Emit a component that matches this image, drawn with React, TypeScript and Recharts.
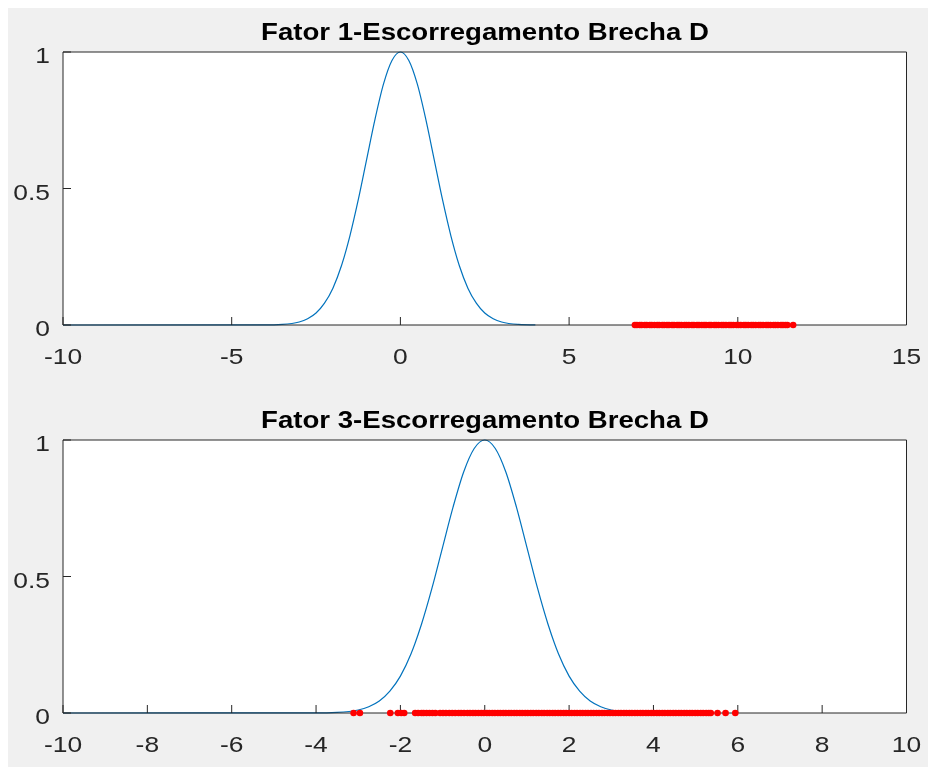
import React from 'react'
import { ComposedChart, Line, Scatter, XAxis, YAxis } from 'recharts'

// gaussian-looking curve (same shape in both panels)
const curveX = [-10, -4, -3.5, -3, -2.75, -2.5, -2.25, -2, -1.75, -1.5, -1.25, -1, -0.75, -0.5, -0.25, 0,
  0.25, 0.5, 0.75, 1, 1.25, 1.5, 1.75, 2, 2.25, 2.5, 2.75, 3, 3.5, 4]
const curveY = [0, 0.0003, 0.0022, 0.011, 0.023, 0.044, 0.08, 0.135, 0.216, 0.325, 0.458, 0.607, 0.755, 0.883, 0.969, 1,
  0.969, 0.883, 0.755, 0.607, 0.458, 0.325, 0.216, 0.135, 0.08, 0.044, 0.023, 0.011, 0.0022, 0.0003]

// red samples sitting on y = 0
const dots1 = [6.95, 7.01, 7.09, 7.15, 7.24, 7.3, 7.39, 7.45, 7.53, 7.61, 7.67, 7.76, 7.82, 7.9, 7.96, 8.05,
  8.11, 8.2, 8.26, 8.33, 8.42, 8.48, 8.55, 8.64, 8.7, 8.79, 8.85, 8.93, 9.0, 9.06, 9.15, 9.21, 9.3, 9.36,
  9.43, 9.52, 9.58, 9.65, 9.74, 9.8, 9.87, 9.96, 10.02, 10.09, 10.18, 10.24, 10.31, 10.4, 10.46, 10.53,
  10.62, 10.68, 10.75, 10.84, 10.9, 10.97, 11.06, 11.12, 11.19, 11.28, 11.34, 11.41, 11.47, 11.64]
const dots3 = [-3.11, -2.96, -2.24, -2.06, -1.98, -1.91, -1.65, -1.58, -1.5, -1.45, -1.38, -1.31, -1.24,
  -1.17, -1.06, -0.99, -0.92, -0.84, -0.77, -0.7, -0.62, -0.56, -0.49, -0.41, -0.35, -0.28, -0.22, -0.15,
  -0.08, -0.02, 0.05, 0.11, 0.18, 0.24, 0.31, 0.37, 0.44, 0.5, 0.57, 0.63, 0.7, 0.76, 0.83, 0.89, 0.96,
  1.02, 1.09, 1.15, 1.22, 1.28, 1.35, 1.41, 1.48, 1.54, 1.61, 1.67, 1.74, 1.8, 1.87, 1.93, 2.0, 2.06,
  2.13, 2.19, 2.26, 2.32, 2.39, 2.45, 2.52, 2.58, 2.65, 2.71, 2.78, 2.84, 2.91, 2.97, 3.04, 3.1, 3.17,
  3.23, 3.3, 3.36, 3.43, 3.49, 3.56, 3.62, 3.69, 3.75, 3.82, 3.88, 3.95, 4.01, 4.08, 4.14, 4.21, 4.27,
  4.34, 4.4, 4.47, 4.53, 4.6, 4.66, 4.73, 4.79, 4.86, 4.92, 4.99, 5.05, 5.12, 5.18, 5.25, 5.31, 5.36,
  5.52, 5.71, 5.94]

const xTicks1 = [-10, -5, 0, 5, 10, 15]
const xTicks3 = [-10, -8, -6, -4, -2, 0, 2, 4, 6, 8, 10]
const yTicks = [0, 0.5, 1]

const AXIS = '#262626'
const BLUE = '#0072BD'
const FONT = '"Liberation Sans", Arial, Helvetica, sans-serif'
const STRETCH = 1.2

const curve = curveX.map((x, i) => ({ x, y: curveY[i] }))

function XTick({ x, y, payload }: any) {
  return (
    <text transform={`translate(${x},${y}) scale(${STRETCH},1)`} textAnchor="middle"
      fill={AXIS} fontSize={22} fontFamily={FONT}>
      {payload.value}
    </text>
  )
}

function YTick({ x, y, payload }: any) {
  return (
    <text transform={`translate(${x},${y + 11}) scale(${STRETCH},1)`} textAnchor="end"
      fill={AXIS} fontSize={22} fontFamily={FONT}>
      {payload.value}
    </text>
  )
}

const noTick = () => <g />

function RedDot(p: any) {
  return <circle cx={p.cx} cy={p.cy} r={3.3} fill="#ff0000" />
}

function Panel({ title, top, height, marginTop, marginBottom, domain, ticks, dots }: {
  title: string; top: number; height: number; marginTop: number; marginBottom: number
  domain: [number, number]; ticks: number[]; dots: number[]
}) {
  const dotData = dots.map((x) => ({ x, y: 0 }))
  const axisLine = { stroke: AXIS, strokeWidth: 1 }
  return (
    <div style={{ position: 'absolute', left: 0, top, width: 920, height }}>
      <div style={{
        position: 'absolute', left: -23.5, top: marginTop - 21.5, width: 1000, textAlign: 'center',
        fontFamily: FONT, fontWeight: 700, fontSize: 23, lineHeight: '23px', color: '#000',
        transform: `scaleX(${STRETCH})`, whiteSpace: 'nowrap',
      }}>
        {title}
      </div>
      <ComposedChart width={920} height={height}
        margin={{ top: marginTop, right: 11.5, bottom: marginBottom, left: 0 }}>
        <XAxis xAxisId={0} dataKey="x" type="number" domain={domain} ticks={ticks}
          height={50} tickSize={-8} tickMargin={47} axisLine={axisLine} tickLine={{ stroke: AXIS }} tick={<XTick />} />
        <XAxis xAxisId="top" orientation="top" dataKey="x" type="number" domain={domain} ticks={ticks}
          height={10} tickSize={-8} axisLine={axisLine} tickLine={{ stroke: AXIS }} tick={noTick} />
        <YAxis yAxisId={0} type="number" domain={[0, 1]} ticks={yTicks} width={55}
          tickSize={-8} tickMargin={21} axisLine={axisLine} tickLine={{ stroke: AXIS }} tick={<YTick />} />
        <YAxis yAxisId="right" orientation="right" type="number" domain={[0, 1]} ticks={yTicks}
          width={10} tickSize={-8} axisLine={axisLine} tickLine={{ stroke: AXIS }} tick={noTick} />
        <Line data={curve} dataKey="y" type="monotone" stroke={BLUE} strokeWidth={1.2} dot={false}
          isAnimationActive={false} />
        <Scatter data={dotData} dataKey="y" shape={RedDot} isAnimationActive={false} />
      </ComposedChart>
    </div>
  )
}

export default function App() {
  return (
    <div style={{ position: 'fixed', left: 8, top: 8, width: 920, height: 759, background: '#f0f0f0' }}>
      <div style={{ position: 'absolute', left: 55, top: 44, width: 843.5, height: 273, background: '#fff' }} />
      <div style={{ position: 'absolute', left: 55, top: 432, width: 843.5, height: 273, background: '#fff' }} />
      <Panel title="Fator 1-Escorregamento Brecha D" top={0} height={380} marginTop={34} marginBottom={13}
        domain={[-10, 15]} ticks={xTicks1} dots={dots1} />
      <Panel title="Fator 3-Escorregamento Brecha D" top={380} height={379} marginTop={42} marginBottom={4}
        domain={[-10, 10]} ticks={xTicks3} dots={dots3} />
    </div>
  )
}
